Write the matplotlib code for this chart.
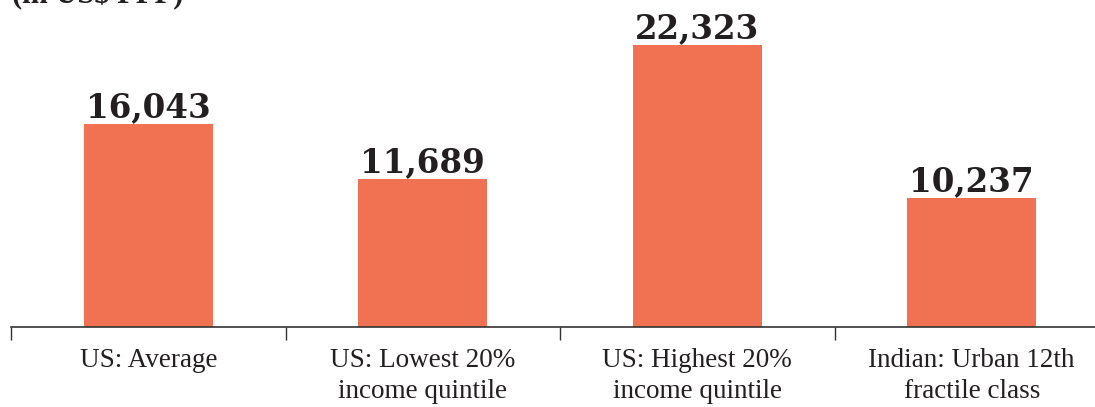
import numpy as np
import matplotlib
matplotlib.use('Agg')
import matplotlib.pyplot as plt
from matplotlib.ticker import FixedLocator

plt.rcParams['font.family'] = ['Liberation Serif', 'DejaVu Serif']

# data
categories = ['US: Average', 'US: Lowest 20%\nincome quintile',
              'US: Highest 20%\nincome quintile', 'Indian: Urban 12th\nfractile class']
values = [16043, 11689, 22323, 10237]

BAR_COLOR = '#F17153'
TEXT_COLOR = '#231F20'

W, H = 1095, 407
fig = plt.figure(figsize=(W / 100, H / 100), dpi=100)
ax = fig.add_axes([11 / W, 80 / H, 1098 / W, 327 / H])

x = np.arange(len(values))
ax.bar(x, values, width=0.47, color=BAR_COLOR, zorder=2)

for xi, v in zip(x, values):
    ax.annotate(f'{v:,}', xy=(xi, v), xytext=(0, 5), textcoords='offset points',
                ha='center', va='baseline', fontsize=23.5, fontweight='bold',
                color=TEXT_COLOR, family=['DejaVu Serif'])

ax.set_xlim(-0.5, len(values) - 0.5)
ax.set_ylim(0, 25900)

for s in ['top', 'right', 'left']:
    ax.spines[s].set_visible(False)
ax.spines['bottom'].set_color('#333333')
ax.spines['bottom'].set_linewidth(1.2)

ax.set_yticks([])
ax.set_xticks(x)
ax.set_xticklabels(categories, fontsize=19.5, color=TEXT_COLOR, linespacing=1.35)
ax.tick_params(axis='x', which='major', length=0, pad=15)
ax.xaxis.set_minor_locator(FixedLocator(np.arange(-0.5, len(values), 1.0)))
ax.tick_params(axis='x', which='minor', length=9, width=1.0, color='#333333',
               direction='out')

fig.text(12 / W, 1 - 3 / H, '(in US$ PPP)', ha='left', va='baseline',
         fontsize=22, fontweight='bold', color=TEXT_COLOR)

fig.savefig('out.png', dpi=100)
